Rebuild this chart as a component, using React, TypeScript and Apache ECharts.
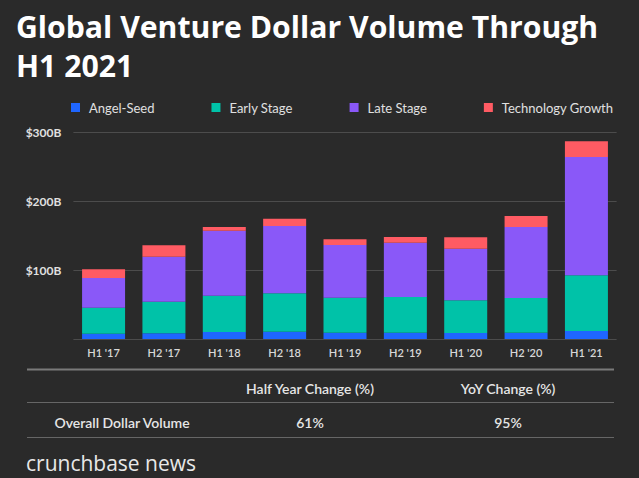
import React, { useEffect, useRef } from "react";
import * as echarts from "echarts";

const categories = ["H1 '17", "H2 '17", "H1 '18", "H2 '18", "H1 '19", "H2 '19", "H1 '20", "H2 '20", "H1 '21"];
const angelSeed = [7.8, 8.2, 10.2, 10.7, 9.2, 9.2, 8.7, 9.2, 11.6];
const earlyStage = [37.8, 46.1, 52.8, 55.7, 50.9, 51.9, 47.5, 50.4, 81.0];
const lateStage = [43.1, 65.4, 94.5, 97.9, 76.6, 79.0, 75.2, 103.3, 172.1];
const techGrowth = [12.6, 16.5, 5.4, 10.7, 8.3, 8.2, 16.4, 16.0, 22.8];
const seriesNames = ["Angel-Seed", "Early Stage", "Late Stage", "Technology Growth"];
const seriesColors = ["#1f66ff", "#00c2a8", "#8a58f8", "#ff5b63"];
const yTicks = [0, 100, 200, 300];
const tableHeaders = ["Half Year Change (%)", "YoY Change (%)"];
const rowLabel = "Overall Dollar Volume";
const rowValues = ["61%", "95%"];

const FONT = "Lato, 'Open Sans', sans-serif";
const TITLE_FONT = "'Open Sans', Lato, sans-serif";

export default function App() {
  const ref = useRef<HTMLDivElement>(null);
  useEffect(() => {
    if (!ref.current) return;
    const chart = echarts.init(ref.current, null, { renderer: "svg" });
    const data = [angelSeed, earlyStage, lateStage, techGrowth];
    const colX = [310, 508];
    const txt = (x: number, y: number, text: string, extra: any = {}) => ({
      type: "text",
      x,
      y,
      style: {
        text,
        fill: "#e6e6e6",
        font: `600 14px ${FONT}`,
        textAlign: "center",
        textVerticalAlign: "middle",
        ...extra,
      },
    });
    chart.setOption({
      animation: false,
      backgroundColor: "#2a2a2a",
      textStyle: { fontFamily: FONT },
      title: {
        text: "Global Venture Dollar Volume Through\nH1 2021",
        left: 11,
        top: 2,
        textStyle: { color: "#ffffff", fontSize: 30.2, fontWeight: "bold", lineHeight: 39, fontFamily: TITLE_FONT },
      },
      legend: {
        data: seriesNames,
        left: 66,
        top: 96,
        icon: "rect",
        itemWidth: 9,
        itemHeight: 9,
        itemGap: 57,
        textStyle: { color: "#e0e0e0", fontSize: 13, padding: [0, 0, 0, 4], fontFamily: FONT },
      },
      grid: { left: 73.4, right: 22.4, top: 132.7, bottom: 139, containLabel: false },
      xAxis: {
        type: "category",
        data: categories,
        axisLine: { show: false },
        axisTick: { show: false },
        axisLabel: { color: "#d8d8d8", fontSize: 11, fontWeight: 600, margin: 8 },
      },
      yAxis: {
        type: "value",
        min: yTicks[0],
        max: yTicks[yTicks.length - 1],
        interval: 100,
        axisLabel: {
          color: "#e0e0e0",
          fontSize: 12,
          fontWeight: "bold",
          margin: 12,
          formatter: (v: number) => (v === 0 ? "" : `$${v}B`),
        },
        splitLine: { lineStyle: { color: "#4c4c4c", width: 1 } },
      },
      series: seriesNames.map((name, i) => ({
        name,
        type: "bar",
        stack: "total",
        barWidth: 43,
        data: data[i],
        itemStyle: { color: seriesColors[i] },
      })),
      graphic: [
        { type: "line", shape: { x1: 27, y1: 369.5, x2: 614, y2: 369.5 }, style: { stroke: "#7a7a7a", lineWidth: 2 } },
        txt(colX[0], 388, tableHeaders[0]),
        txt(colX[1], 388, tableHeaders[1]),
        { type: "line", shape: { x1: 27, y1: 402.5, x2: 614, y2: 402.5 }, style: { stroke: "#666666", lineWidth: 1 } },
        txt(122, 422, rowLabel),
        txt(colX[0], 422, rowValues[0]),
        txt(colX[1], 422, rowValues[1]),
        { type: "line", shape: { x1: 27, y1: 437.5, x2: 614, y2: 437.5 }, style: { stroke: "#666666", lineWidth: 1 } },
        txt(26, 463, "crunchbase news", { font: `400 21px 'Open Sans', sans-serif`, textAlign: "left", fill: "#e8e8e8" }),
      ],
    });
    return () => chart.dispose();
  }, []);
  return <div ref={ref} style={{ position: "absolute", left: 0, top: 0, width: 639, height: 478 }} />;
}
